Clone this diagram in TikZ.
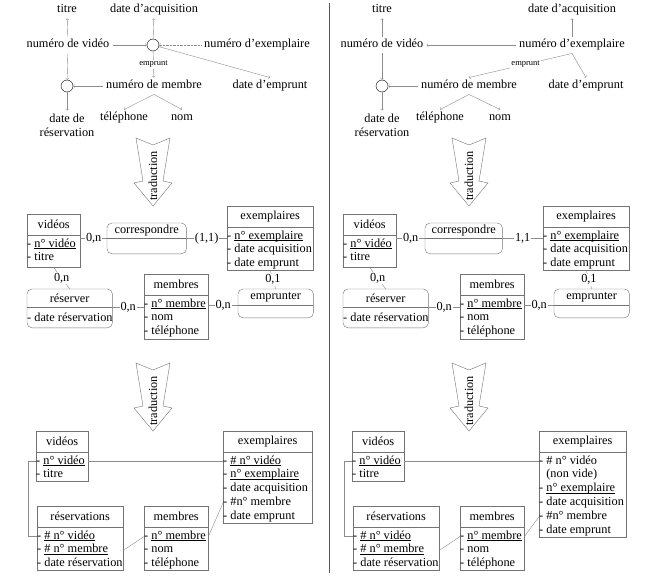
\documentclass[tikz,border=0pt]{standalone}
\usepackage{fontspec}
\setmainfont{Liberation Serif}
\usetikzlibrary{positioning}

\definecolor{boxgray}{gray}{0.45}
\definecolor{linegray}{gray}{0.55}
\definecolor{divgray}{gray}{0.35}

\newsavebox\keybox
\newcommand{\keyattr}[1]{\sbox\keybox{#1}\rlap{\rule[-1.6pt]{\wd\keybox}{0.4pt}}\usebox\keybox}

\begin{document}
\begin{tikzpicture} [
                x=1pt, y=-1pt,
                font=\fontsize{12.3}{14}\selectfont,
                attr/.style={inner sep=3pt, text height=8pt, text depth=2.5pt},
                attrtwo/.style={inner sep=3pt, align=center},
                assoc/.style={circle, draw=black, minimum size=12pt, inner sep=0pt},
                dep/.style={->, draw=linegray},
                deplabel/.style={font=\fontsize{8.5}{10}\selectfont, fill=white, inner sep=1pt},
                tabbody/.style={draw=boxgray, anchor=north west, inner sep=0pt},
                tabhead/.style={draw=boxgray, minimum height=21pt, inner sep=0pt},
                relpart/.style={anchor=north west, inner sep=0pt},
                relbox/.style={draw=boxgray, rounded corners=5pt},
                row/.style={anchor=base west, inner sep=0pt, text height=8pt, text depth=3pt},
                link/.style={draw=linegray},
                card/.style={fill=white, inner sep=1pt},
                trad/.style={draw=boxgray, fill=white},
                tradtext/.style={rotate=90, inner sep=0pt},
                divider/.style={draw=divgray, line width=0.8pt}
            ]

                \useasboundingbox (0,0) rectangle (660,583);

                % left: dependencies
                \node[attr]     (Ltitre)    at (67,10)      {titre};
                \node[attr]     (Lacq)      at (154,10)     {date d’acquisition};
                \node[attr]     (Lnv)       at (68,45)      {numéro de vidéo};
                \node[assoc]    (Lc1)       at (153,45)     {};
                \node[attr]     (Lne)       at (257,45)     {numéro d’exemplaire};
                \node[assoc]    (Lc2)       at (67,86)      {};
                \node[attr]     (Lnm)       at (154,86)     {numéro de membre};
                \node[attr]     (Lde)       at (270,86)     {date d’emprunt};
                \node[attrtwo]  (Ldr)       at (67,125)     {date de\\réservation};
                \node[attr]     (Ltel)      at (124,118)    {téléphone};
                \node[attr]     (Lnom)      at (182,118)    {nom};

                \draw[dep] (Lnv) -- (Ltitre);
                \draw[dep] (Lc1) -- (Lacq);
                \draw[dep] (Lnv) -- (Lc1);
                \draw[dep, densely dotted] (Lne) -- (Lc1);
                \draw[dep] (Lc1) -- (Lde.north);
                \draw[dep] (Lc1) -- node[deplabel] {emprunt} (Lnm);
                \draw[dep] (Lnv) -- (Lc2);
                \draw[dep] (Lnm) -- (Lc2);
                \draw[dep] (Lc2) -- (Ldr);
                \draw[dep] (Lnm.south) -- (Ltel.north);
                \draw[dep] (Lnm.south) -- (Lnom.north);

                % right: dependencies
                \node[attr]     (Rtitre)    at (382,10)     {titre};
                \node[attr]     (Racq)      at (572,10)     {date d’acquisition};
                \node[attr]     (Rnv)       at (382,45)     {numéro de vidéo};
                \node[attr]     (Rne)       at (572,45)     {numéro d’exemplaire};
                \node[assoc]    (Rc)        at (382,86)     {};
                \node[attr]     (Rnm)       at (469,86)     {numéro de membre};
                \node[attr]     (Rde)       at (586,86)     {date d’emprunt};
                \node[attrtwo]  (Rdr)       at (382,125)    {date de\\réservation};
                \node[attr]     (Rtel)      at (440,118)    {téléphone};
                \node[attr]     (Rnom)      at (500,118)    {nom};

                \draw[dep] (Rnv) -- (Rtitre);
                \draw[dep] (Rne) -- (Racq);
                \draw[dep] (Rne) -- (Rnv);
                \draw[dep] (Rne.south) -- node[deplabel, pos=0.45] {emprunt} (Rnm.north);
                \draw[dep] (Rne.south) -- (Rde.north);
                \draw[dep] (Rnv) -- (Rc);
                \draw[dep] (Rnm) -- (Rc);
                \draw[dep] (Rc) -- (Rdr);
                \draw[dep] (Rnm.south) -- (Rtel.north);
                \draw[dep] (Rnm.south) -- (Rnom.north);

                % traduction arrows
                \foreach \ax/\ay/\an in {153/138/Ltr1, 153/363/Ltr2, 469/138/Rtr1, 469/363/Rtr2} {
                    \begin{scope}[shift={(\ax,\ay)}]
                        \draw[trad] (-17,0) -- (0,7) -- (17,0) -- (10,43) -- (19,45) -- (0,68) -- (-19,45) -- (-10,43) -- cycle;
                        \node[tradtext] (\an) at (0,38) {traduction};
                    \end{scope}
                }

                % left: entity-relationship model
                \node[tabbody, minimum width=53pt, minimum height=32pt] (Lvb)   at (27,235)     {};
                \node[tabhead, minimum width=53pt]                      (Lvh)   [above=-\pgflinewidth of Lvb]   {vidéos};
                \foreach \attrib [count=\i] in {\keyattr{n° vidéo}, titre}
                    \node[row] (Lv\i) at (27,{247+13.8*(\i-1)}) {- \attrib};

                \node[tabbody, minimum width=86pt, minimum height=43pt] (Lexb)  at (227,227)    {};
                \node[tabhead, minimum width=86pt]                      (Lexh)  [above=-\pgflinewidth of Lexb]  {exemplaires};
                \foreach \attrib [count=\i] in {\keyattr{n° exemplaire}, date acquisition, date emprunt}
                    \node[row] (Lex\i) at (227,{239+13.8*(\i-1)}) {- \attrib};

                \node[tabbody, minimum width=64pt, minimum height=44pt] (Lmb)   at (144,295)    {};
                \node[tabhead, minimum width=64pt]                      (Lmh)   [above=-\pgflinewidth of Lmb]   {membres};
                \foreach \attrib [count=\i] in {\keyattr{n° membre}, nom, téléphone}
                    \node[row] (Lm\i) at (144,{307+13.8*(\i-1)}) {- \attrib};

                \node[relpart, minimum width=79pt, minimum height=15pt] (Lcorh) at (107,223)    {correspondre};
                \node[relpart, minimum width=79pt, minimum height=15pt] (Lcorb) [below=0pt of Lcorh] {};
                \draw[relbox] (Lcorh.north west) rectangle (Lcorb.south east);
                \draw[draw=boxgray] (Lcorh.south west) -- (Lcorh.south east);

                \node[relpart, minimum width=85pt, minimum height=18pt] (Lresh) at (27,289)     {réserver};
                \node[relpart, minimum width=85pt, minimum height=20pt] (Lresb) [below=0pt of Lresh] {};
                \draw[relbox] (Lresh.north west) rectangle (Lresb.south east);
                \draw[draw=boxgray] (Lresh.south west) -- (Lresh.south east);
                \node[row] (Lres1) at (27,321) {- date réservation};

                \node[relpart, minimum width=75pt, minimum height=16pt] (Lemph) at (238,289)    {emprunter};
                \node[relpart, minimum width=75pt, minimum height=12pt] (Lempb) [below=0pt of Lemph] {};
                \draw[relbox] (Lemph.north west) rectangle (Lempb.south east);
                \draw[draw=boxgray] (Lemph.south west) -- (Lemph.south east);

                \draw[link] (Lvb.east |- Lcorh.south west) -- node[card] {0,n} (Lcorh.south west);
                \draw[link] (Lcorh.south east) -- node[card] {(1,1)} (Lcorh.south east -| Lexb.west);
                \draw[link] (Lvb.south) -- node[card] {0,n} (Lresh.north);
                \draw[link] (Lresh.south east) -- node[card] {0,n} (Lresh.south east -| Lmb.west);
                \draw[link] (Lmb.east |- Lemph.south west) -- node[card] {0,n} (Lemph.south west);
                \draw[link] (Lexb.south) -- node[card] {0,1} (Lemph.north);

                % right: entity-relationship model
                \begin{scope}[xshift=316pt]
                \node[tabbody, minimum width=53pt, minimum height=32pt] (Rvb)   at (27,235)     {};
                \node[tabhead, minimum width=53pt]                      (Rvh)   [above=-\pgflinewidth of Rvb]   {vidéos};
                \foreach \attrib [count=\i] in {\keyattr{n° vidéo}, titre}
                    \node[row] (Rv\i) at (27,{247+13.8*(\i-1)}) {- \attrib};

                \node[tabbody, minimum width=86pt, minimum height=43pt] (Rexb)  at (227,227)    {};
                \node[tabhead, minimum width=86pt]                      (Rexh)  [above=-\pgflinewidth of Rexb]  {exemplaires};
                \foreach \attrib [count=\i] in {\keyattr{n° exemplaire}, date acquisition, date emprunt}
                    \node[row] (Rex\i) at (227,{239+13.8*(\i-1)}) {- \attrib};

                \node[tabbody, minimum width=64pt, minimum height=44pt] (Rmb)   at (144,295)    {};
                \node[tabhead, minimum width=64pt]                      (Rmh)   [above=-\pgflinewidth of Rmb]   {membres};
                \foreach \attrib [count=\i] in {\keyattr{n° membre}, nom, téléphone}
                    \node[row] (Rm\i) at (144,{307+13.8*(\i-1)}) {- \attrib};

                \node[relpart, minimum width=77pt, minimum height=15pt] (Rcorh) at (109,223)    {correspondre};
                \node[relpart, minimum width=77pt, minimum height=15pt] (Rcorb) [below=0pt of Rcorh] {};
                \draw[relbox] (Rcorh.north west) rectangle (Rcorb.south east);
                \draw[draw=boxgray] (Rcorh.south west) -- (Rcorh.south east);

                \node[relpart, minimum width=85pt, minimum height=18pt] (Rresh) at (27,289)     {réserver};
                \node[relpart, minimum width=85pt, minimum height=20pt] (Rresb) [below=0pt of Rresh] {};
                \draw[relbox] (Rresh.north west) rectangle (Rresb.south east);
                \draw[draw=boxgray] (Rresh.south west) -- (Rresh.south east);
                \node[row] (Rres1) at (27,321) {- date réservation};

                \node[relpart, minimum width=75pt, minimum height=16pt] (Remph) at (238,289)    {emprunter};
                \node[relpart, minimum width=75pt, minimum height=12pt] (Rempb) [below=0pt of Remph] {};
                \draw[relbox] (Remph.north west) rectangle (Rempb.south east);
                \draw[draw=boxgray] (Remph.south west) -- (Remph.south east);

                \draw[link] (Rvb.east |- Rcorh.south west) -- node[card] {0,n} (Rcorh.south west);
                \draw[link] (Rcorh.south east) -- node[card] {1,1} (Rcorh.south east -| Rexb.west);
                \draw[link] (Rvb.south) -- node[card] {0,n} (Rresh.north);
                \draw[link] (Rresh.south east) -- node[card] {0,n} (Rresh.south east -| Rmb.west);
                \draw[link] (Rmb.east |- Remph.south west) -- node[card] {0,n} (Remph.south west);
                \draw[link] (Rexb.south) -- node[card] {0,1} (Remph.north);
                \end{scope}

                % left: relational model
                \node[tabbody, minimum width=52pt, minimum height=29pt] (Lbvb)  at (36,452)     {};
                \node[tabhead, minimum width=52pt]                      (Lbvh)  [above=-\pgflinewidth of Lbvb]  {vidéos};
                \foreach \attrib [count=\i] in {\keyattr{n° vidéo}, titre}
                    \node[row] (Lbv\i) at (36,{464+13.8*(\i-1)}) {- \attrib};

                \node[tabbody, minimum width=89pt, minimum height=71pt] (Lbeb)  at (223,452)    {};
                \node[tabhead, minimum width=89pt]                      (Lbeh)  [above=-\pgflinewidth of Lbeb]  {exemplaires};
                \foreach \attrib [count=\i] in {\keyattr{\# n° vidéo}, \keyattr{n° exemplaire}, date acquisition, \#n° membre, date emprunt}
                    \node[row] (Lbe\i) at (223,{464+13.8*(\i-1)}) {- \attrib};

                \node[tabbody, minimum width=86pt, minimum height=43pt] (Lbrb)  at (37,527)     {};
                \node[tabhead, minimum width=86pt]                      (Lbrh)  [above=-\pgflinewidth of Lbrb]  {réservations};
                \foreach \attrib [count=\i] in {\keyattr{\# n° vidéo}, \keyattr{\# n° membre}, date réservation}
                    \node[row] (Lbr\i) at (37,{539+13.8*(\i-1)}) {- \attrib};

                \node[tabbody, minimum width=64pt, minimum height=43pt] (Lbmb)  at (144,527)    {};
                \node[tabhead, minimum width=64pt]                      (Lbmh)  [above=-\pgflinewidth of Lbmb]  {membres};
                \foreach \attrib [count=\i] in {\keyattr{n° membre}, nom, téléphone}
                    \node[row] (Lbm\i) at (144,{539+13.8*(\i-1)}) {- \attrib};

                \draw[link] (Lbv1.west -| Lbvb.east) -- (Lbe1.west);
                \draw[link] (Lbv1.west) -- ++(-8,0) |- (Lbr1.west);
                \draw[link] (Lbr2.west -| Lbrb.east) -- (Lbm1.west);
                \draw[link] (Lbm1.west -| Lbmb.east) -- (Lbe4.west);

                % right: relational model
                \begin{scope}[xshift=316pt]
                \node[tabbody, minimum width=52pt, minimum height=29pt] (Rbvb)  at (36,452)     {};
                \node[tabhead, minimum width=52pt]                      (Rbvh)  [above=-\pgflinewidth of Rbvb]  {vidéos};
                \foreach \attrib [count=\i] in {\keyattr{n° vidéo}, titre}
                    \node[row] (Rbv\i) at (36,{464+13.8*(\i-1)}) {- \attrib};

                \node[tabbody, minimum width=87pt, minimum height=85pt] (Rbeb)  at (223,452)    {};
                \node[tabhead, minimum width=87pt]                      (Rbeh)  [above=-\pgflinewidth of Rbeb]  {exemplaires};
                \foreach \attrib [count=\i] in {- \# n° vidéo, \phantom{-} (non vide), - \keyattr{n° exemplaire}, - date acquisition, - \#n° membre, - date emprunt}
                    \node[row] (Rbe\i) at (223,{464+13.8*(\i-1)}) {\attrib};

                \node[tabbody, minimum width=86pt, minimum height=43pt] (Rbrb)  at (37,527)     {};
                \node[tabhead, minimum width=86pt]                      (Rbrh)  [above=-\pgflinewidth of Rbrb]  {réservations};
                \foreach \attrib [count=\i] in {\keyattr{\# n° vidéo}, \keyattr{\# n° membre}, date réservation}
                    \node[row] (Rbr\i) at (37,{539+13.8*(\i-1)}) {- \attrib};

                \node[tabbody, minimum width=64pt, minimum height=43pt] (Rbmb)  at (144,527)    {};
                \node[tabhead, minimum width=64pt]                      (Rbmh)  [above=-\pgflinewidth of Rbmb]  {membres};
                \foreach \attrib [count=\i] in {\keyattr{n° membre}, nom, téléphone}
                    \node[row] (Rbm\i) at (144,{539+13.8*(\i-1)}) {- \attrib};

                \draw[link] (Rbv1.west -| Rbvb.east) -- (Rbe1.west);
                \draw[link] (Rbv1.west) -- ++(-8,0) |- (Rbr1.west);
                \draw[link] (Rbr2.west -| Rbrb.east) -- (Rbm1.west);
                \draw[link] (Rbm1.west -| Rbmb.east) -- (Rbe5.west);
                \end{scope}

                % divider
                \coordinate (divtop) at (329,3);
                \coordinate (divbot) at (329,573);
                \draw[divider] (divtop) -- (divbot);

            \end{tikzpicture}
\end{document}
